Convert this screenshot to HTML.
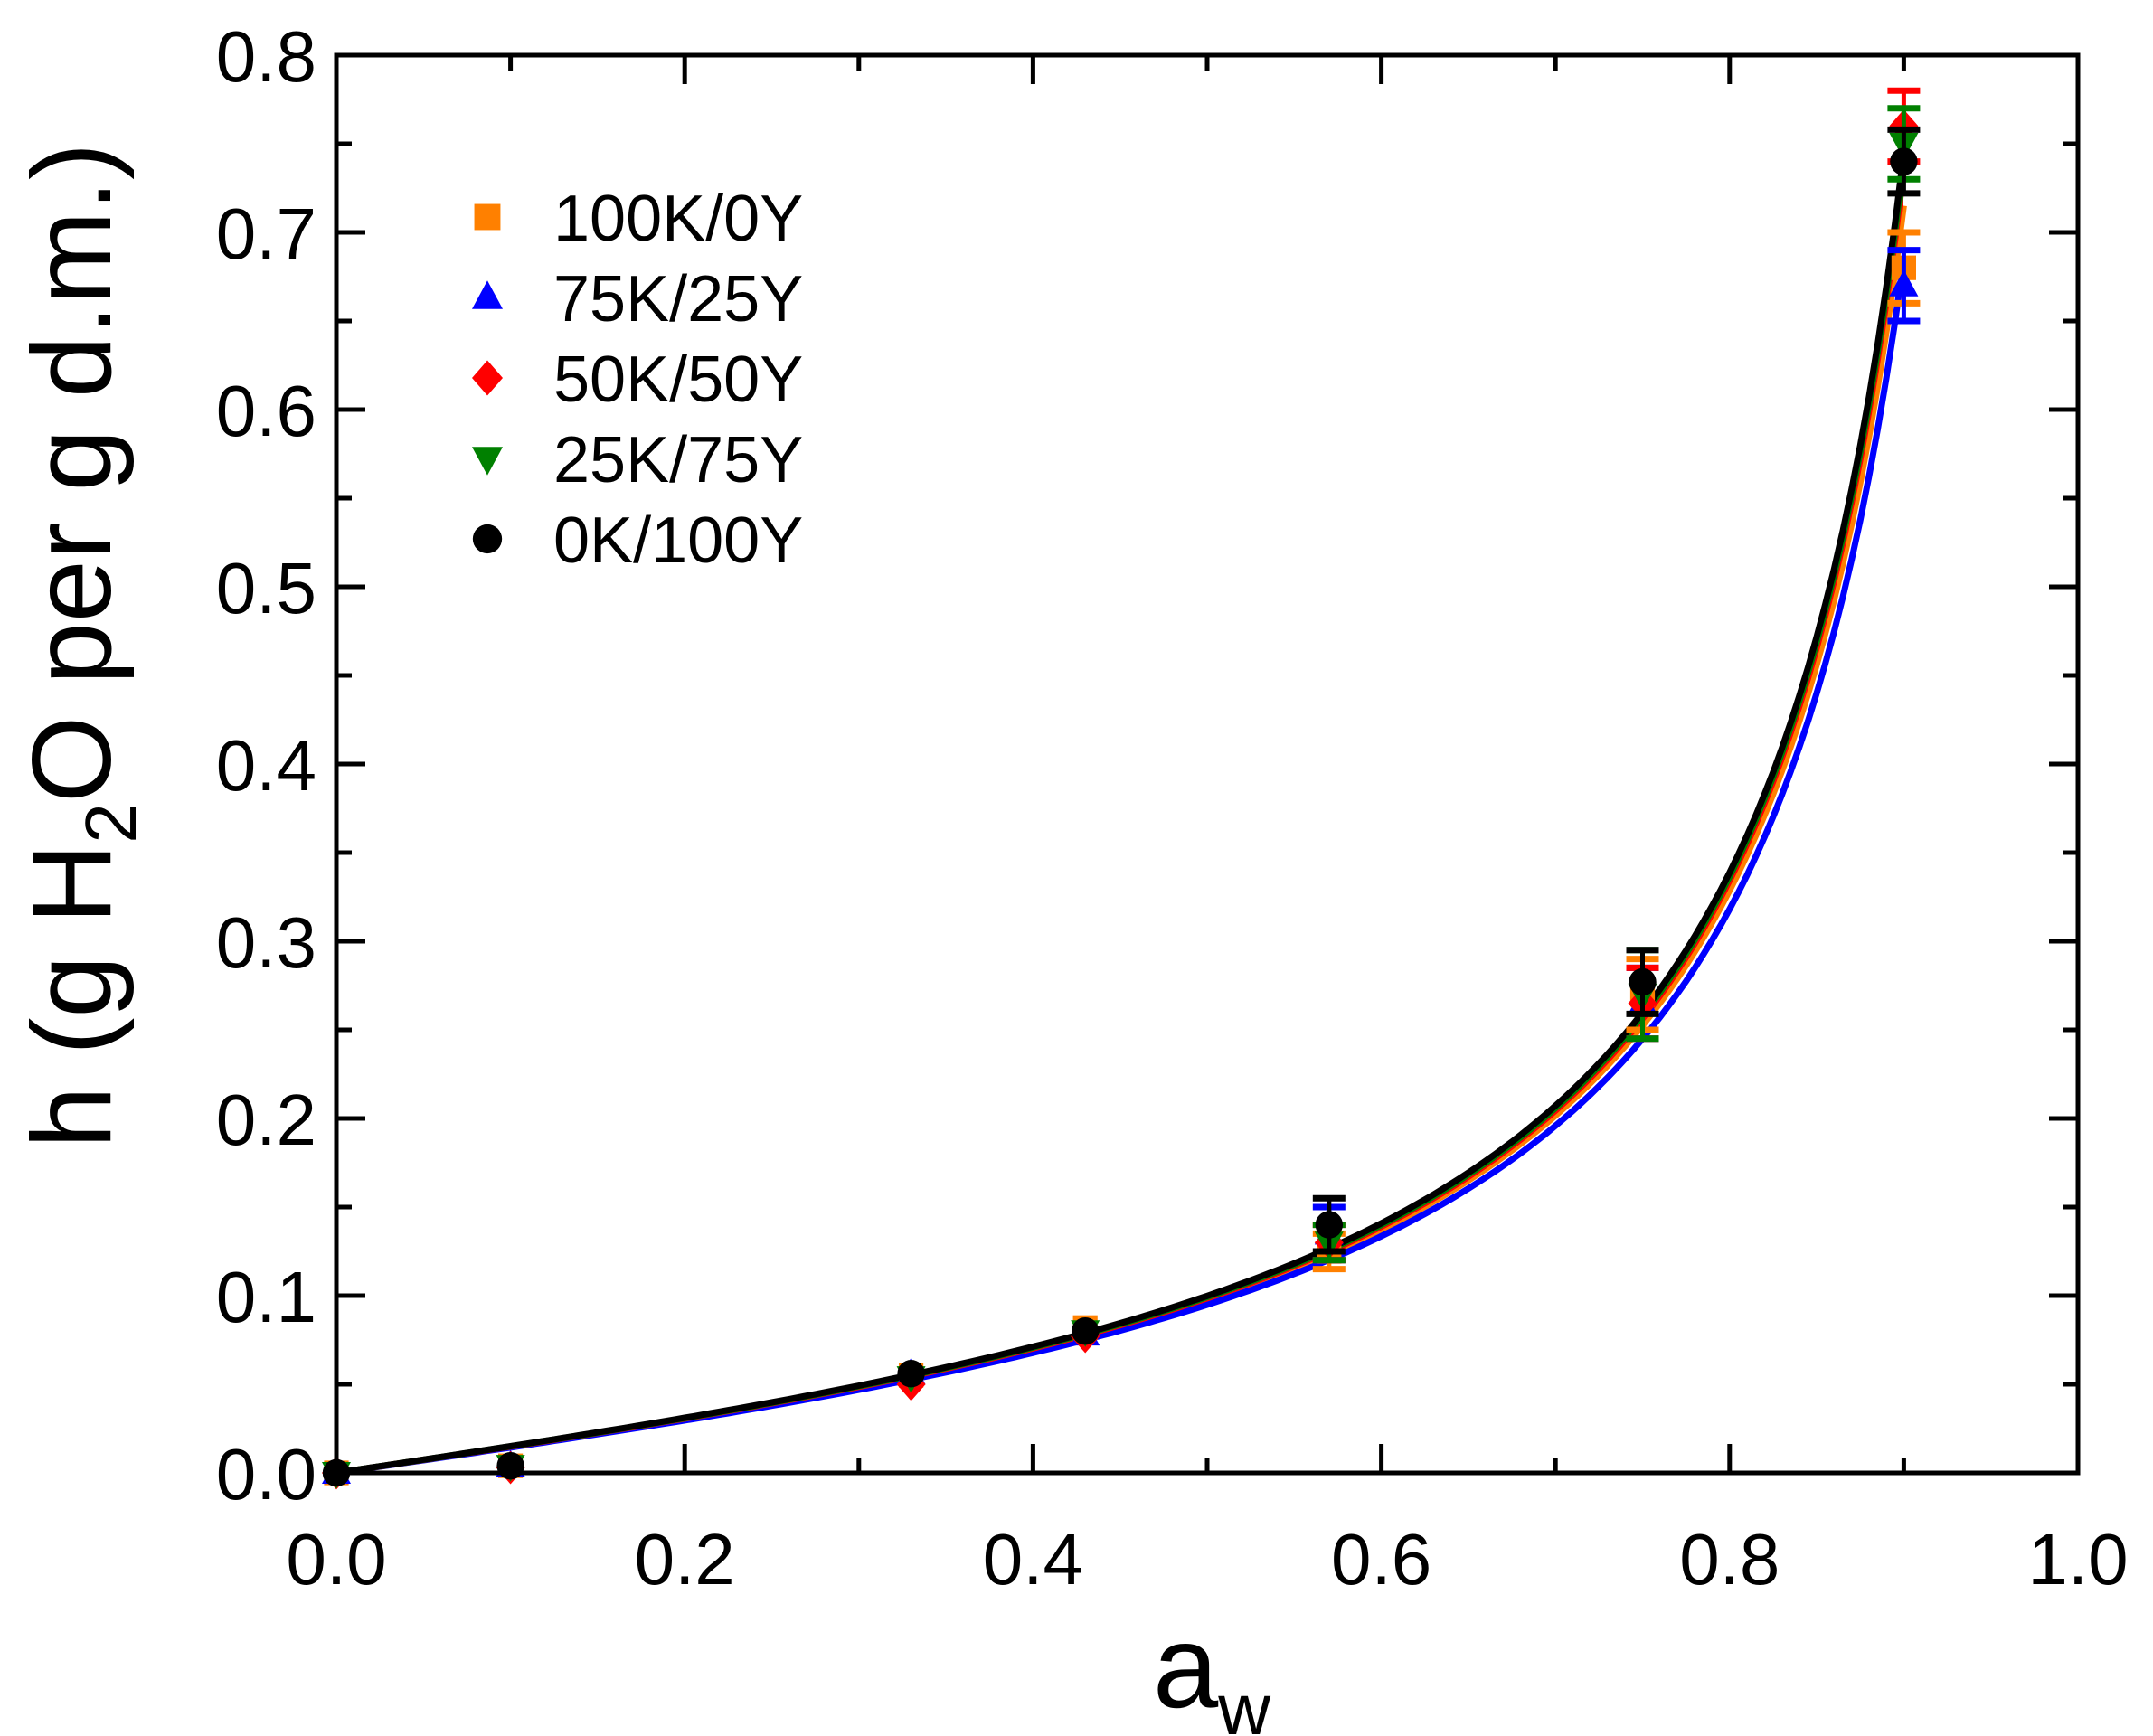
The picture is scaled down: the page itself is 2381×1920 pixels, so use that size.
<!DOCTYPE html>
<html><head><meta charset="utf-8"><style>
html,body{margin:0;padding:0;background:#fff;}
svg{display:block;font-family:"Liberation Sans",Arial,sans-serif;}
</style></head><body>
<svg id="s" width="2381" height="1920" viewBox="0 0 2381 1920" xmlns="http://www.w3.org/2000/svg">
<rect width="2381" height="1920" fill="#fff"/>
<g id="plot"></g>
<g id="ax"></g>
<text x="1340" y="1888" font-size="130" text-anchor="middle">a<tspan font-size="80" dy="30">w</tspan></text>
<text transform="translate(122,714) rotate(-90)" font-size="124" text-anchor="middle">h (g H<tspan font-size="80" dy="28">2</tspan><tspan dy="-28">O per g d.m.)</tspan></text>
</svg>
<script>
const NS="http://www.w3.org/2000/svg";
const L=372,R=2298,T=61,B=1629;
const X=a=>L+a*(R-L), Y=h=>B-h*(B-T)/0.8;
function el(p,tag,at,txt){const e=document.createElementNS(NS,tag);for(const k in at)e.setAttribute(k,at[k]);if(txt!==undefined)e.textContent=txt;p.appendChild(e);return e;}
const ax=document.getElementById('ax'),pl=document.getElementById('plot');
el(ax,'rect',{x:L,y:T,width:R-L,height:B-T,fill:'none',stroke:'#000','stroke-width':5});
for(let i=0;i<=10;i++){const x=X(i/10),len=i%2?17:32;
 el(ax,'line',{x1:x,y1:B,x2:x,y2:B-len,stroke:'#000','stroke-width':5});
 el(ax,'line',{x1:x,y1:T,x2:x,y2:T+len,stroke:'#000','stroke-width':5});
 if(i%2==0)el(ax,'text',{x:x,y:1752,'font-size':80,'text-anchor':'middle'},(i/10).toFixed(1));}
for(let i=0;i<=16;i++){const y=Y(i*0.05),len=i%2?17:32;
 el(ax,'line',{x1:L,y1:y,x2:L+len,y2:y,stroke:'#000','stroke-width':5});
 el(ax,'line',{x1:R,y1:y,x2:R-len,y2:y,stroke:'#000','stroke-width':5});
 if(i%2==0)el(ax,'text',{x:350,y:y+29,'font-size':80,'text-anchor':'end'},(i*0.05).toFixed(1));}
const aw=[0,0.1,0.33,0.43,0.57,0.75,0.9];
const S=[
 {c:'#ff8000',m:'sq',h:[0,0.004,0.055,0.082,0.125,0.27,0.68],e:[0,0,0,0,0.01,0.02,0.02],f:0.715,K:1.004},
 {c:'#0000ff',m:'tu',h:[0,0.004,0.056,0.078,0.135,0.265,0.67],e:[0,0,0,0,0.015,0.02,0.02],f:0.685,K:1.002},
 {c:'#ff0000',m:'di',h:[0,0.003,0.05,0.077,0.13,0.265,0.76],e:[0,0,0,0,0.01,0.02,0.02],f:0.735,K:1.006},
 {c:'#008000',m:'td',h:[0,0.004,0.054,0.08,0.13,0.27,0.75],e:[0,0,0,0,0.01,0.025,0.02],f:0.74,K:1.006},
 {c:'#000000',m:'ci',h:[0,0.004,0.056,0.08,0.14,0.277,0.74],e:[0,0,0,0,0.015,0.018,0.018],f:0.745,K:1.006}];
function gab(a,m,C,K){const ka=K*a;return m*C*ka/((1-ka)*(1-ka+C*ka));}
function curve(top,K){const C=2;const m=top/gab(0.9,1,C,K);
 let d='';for(let i=0;i<=180;i++){const a=i*0.005;d+=(i?' L':'M')+X(a).toFixed(1)+','+Y(gab(a,m,C,K)).toFixed(1);}return d;}
S.forEach(s=>el(pl,'path',{d:curve(s.f,s.K),fill:'none',stroke:s.c,'stroke-width':7}));
function mark(g,m,x,y,c,r){
 if(m=='sq')el(g,'rect',{x:x-r*0.85,y:y-r*0.85,width:r*1.7,height:r*1.7,fill:c});
 else if(m=='tu')el(g,'polygon',{points:`${x},${y-r*1.1} ${x-r},${y+r*0.75} ${x+r},${y+r*0.75}`,fill:c});
 else if(m=='td')el(g,'polygon',{points:`${x},${y+r*1.1} ${x-r},${y-r*0.75} ${x+r},${y-r*0.75}`,fill:c});
 else if(m=='di')el(g,'polygon',{points:`${x},${y-r*1.15} ${x+r},${y} ${x},${y+r*1.15} ${x-r},${y}`,fill:c});
 else el(g,'circle',{cx:x,cy:y,r:r*0.95,fill:c});}
S.forEach(s=>{aw.forEach((a,i)=>{const x=X(a),y=Y(s.h[i]),e=s.e[i]*1960;
 if(e>0){el(pl,'line',{x1:x,y1:y-e,x2:x,y2:y+e,stroke:s.c,'stroke-width':5});
  el(pl,'line',{x1:x-18,y1:y-e,x2:x+18,y2:y-e,stroke:s.c,'stroke-width':7});
  el(pl,'line',{x1:x-18,y1:y+e,x2:x+18,y2:y+e,stroke:s.c,'stroke-width':7});}
 mark(pl,s.m,x,y,s.c,16);});});
const names=['100K/0Y','75K/25Y','50K/50Y','25K/75Y','0K/100Y'];
S.forEach((s,k)=>{const y=240+k*89;mark(pl,s.m,539,y,s.c,17);
 el(pl,'text',{x:612,y:y+26,'font-size':72},names[k]);});
</script>
</body></html>
